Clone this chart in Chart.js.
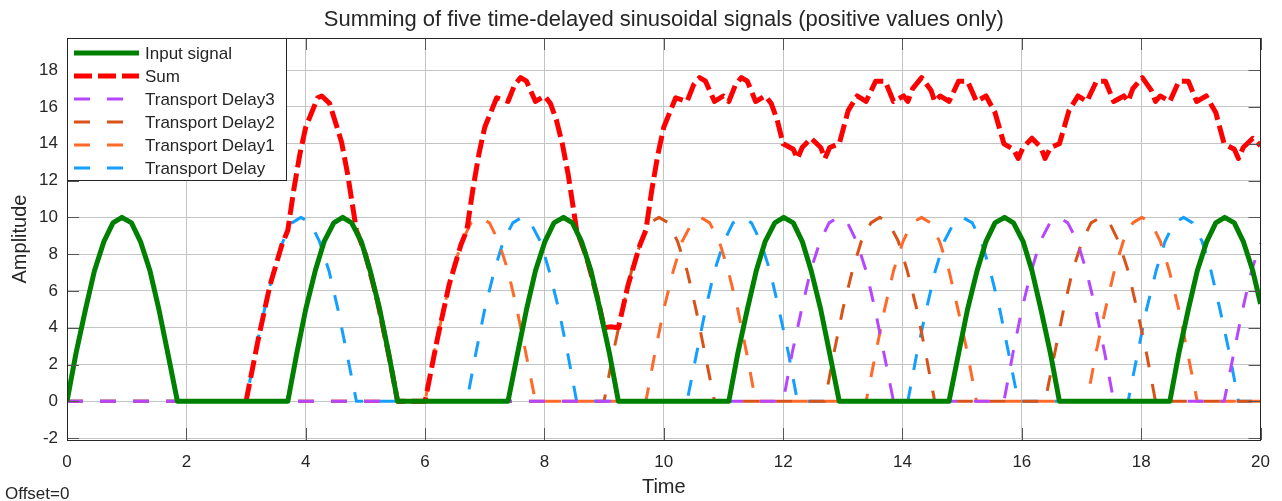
<!DOCTYPE html>
<html>
<head>
<meta charset="utf-8">
<title>Summing of five time-delayed sinusoidal signals</title>
<script src="https://cdn.jsdelivr.net/npm/chart.js@4.4.1/dist/chart.umd.min.js"></script>
<style>
  html, body { margin: 0; padding: 0; background: #fff; }
  #wrap { position: relative; width: 1282px; height: 501px; }
  #offsetNote {
    position: absolute; left: 5px; top: 484px;
    font: 17px "Liberation Sans", Arial, sans-serif; color: #262626;
    line-height: 20px;
  }
</style>
</head>
<body>
<div id="wrap">
  <canvas id="scopeChart" width="1282" height="501"></canvas>
  <div id="offsetNote">Offset=0</div>
</div>
<script>
// ---- data ----
const chartTitle = 'Summing of five time-delayed sinusoidal signals (positive values only)';
const xTicks = [0, 2, 4, 6, 8, 10, 12, 14, 16, 18, 20];
const yTicks = [-2, 0, 2, 4, 6, 8, 10, 12, 14, 16, 18];

const inputTime = [
  0, 0.15, 0.31, 0.46, 0.62, 0.77, 0.92, 1.08, 1.23, 1.39, 1.54, 1.69, 1.85,
  3.70, 3.85, 4.00, 4.16, 4.31, 4.47, 4.62, 4.77, 4.93, 5.08, 5.24, 5.39, 5.54,
  7.39, 7.55, 7.70, 7.85, 8.01, 8.16, 8.32, 8.47, 8.62, 8.78, 8.93, 9.09, 9.24,
  11.09, 11.24, 11.40, 11.55, 11.70, 11.86, 12.01, 12.17, 12.32, 12.47, 12.63, 12.78, 12.94,
  14.78, 14.94, 15.09, 15.25, 15.40, 15.55, 15.71, 15.86, 16.02, 16.17, 16.32, 16.48, 16.63,
  18.48, 18.63, 18.79, 18.94, 19.10, 19.25, 19.40, 19.56, 19.71, 19.87, 20
];
const inputAmp = [
  0, 2.6, 5, 7.1, 8.7, 9.7, 10, 9.7, 8.7, 7.1, 5, 2.6, 0,
  0, 2.6, 5, 7.1, 8.7, 9.7, 10, 9.7, 8.7, 7.1, 5, 2.6, 0,
  0, 2.6, 5, 7.1, 8.7, 9.7, 10, 9.7, 8.7, 7.1, 5, 2.6, 0,
  0, 2.6, 5, 7.1, 8.7, 9.7, 10, 9.7, 8.7, 7.1, 5, 2.6, 0,
  0, 2.6, 5, 7.1, 8.7, 9.7, 10, 9.7, 8.7, 7.1, 5, 2.6, 0,
  0, 2.6, 5, 7.1, 8.7, 9.7, 10, 9.7, 8.7, 7.1, 5.3
];

const sumTime = [
  3, 3.2, 3.4, 3.6, 3.7, 3.8, 3.9, 4.0, 4.2, 4.27, 4.4, 4.6, 4.7, 4.85, 5.0, 5.2, 5.4, 5.54,
  6.0, 6.2, 6.4, 6.6, 6.7, 6.8, 6.9, 7.0, 7.2, 7.39, 7.5, 7.6, 7.7, 7.85, 8.0, 8.1, 8.2, 8.3, 8.4, 8.54, 8.7, 8.9, 9.0, 9.1, 9.24,
  9.4, 9.6, 9.7, 9.8, 9.9, 10.0, 10.2, 10.39, 10.5, 10.6, 10.7, 10.85, 11.0, 11.09, 11.2, 11.3, 11.4, 11.54, 11.7, 11.8, 11.9, 12.0,
  12.17, 12.24, 12.32, 12.47, 12.63, 12.7, 12.78, 12.94, 13.09, 13.24, 13.39, 13.55, 13.71, 13.85, 14.02, 14.09, 14.17, 14.32, 14.48, 14.54, 14.63, 14.78, 14.94, 15.09, 15.24, 15.4, 15.55, 15.7,
  15.86, 15.94, 16.02, 16.17, 16.32, 16.39, 16.48, 16.63, 16.79, 16.94, 17.09, 17.25, 17.4, 17.54, 17.71, 17.78, 17.86, 18.02, 18.17, 18.24, 18.32, 18.48, 18.63, 18.79, 18.93, 19.09, 19.25, 19.39,
  19.56, 19.63, 19.71, 19.87, 20
];
const sumAmp = [
  0, 3.3, 6.3, 8.5, 9.3, 11.5, 13.4, 14.9, 16.5, 16.6, 16.2, 14.1, 12.4, 9.3, 8.0, 5.5, 2.4, 0,
  0, 3.3, 6.3, 8.5, 9.3, 11.5, 13.4, 14.9, 16.5, 16.3, 17.2, 17.6, 17.4, 16.3, 16.6, 16.2, 15.3, 14.0, 12.3, 9.3, 7.9, 5.5, 4.0, 4.05, 4.0,
  6.3, 8.5, 9.3, 11.5, 13.4, 14.9, 16.5, 16.3, 17.2, 17.6, 17.4, 16.3, 16.6, 16.3, 17.2, 17.6, 17.4, 16.3, 16.6, 16.2, 15.3, 14.0,
  13.7, 13.2, 13.8, 14.3, 13.8, 13.2, 13.8, 14.0, 15.8, 16.6, 16.3, 17.4, 17.4, 16.3, 16.6, 16.3, 17.0, 17.6, 16.9, 16.3, 16.6, 16.3, 17.4, 17.4, 16.3, 16.6, 15.7, 14.0,
  13.7, 13.2, 13.8, 14.3, 13.8, 13.2, 13.8, 14.0, 15.8, 16.6, 16.3, 17.4, 17.4, 16.3, 16.6, 16.3, 17.0, 17.6, 16.9, 16.3, 16.6, 16.3, 17.4, 17.4, 16.3, 16.6, 15.7, 14.0,
  13.7, 13.2, 13.8, 14.3, 13.9
];

// Transport Delay (3 s)
const delayTime = [
  0,
  3.00, 3.15, 3.31, 3.46, 3.62, 3.77, 3.92, 4.08, 4.23, 4.39, 4.54, 4.69, 4.85,
  6.70, 6.85, 7.00, 7.16, 7.31, 7.47, 7.62, 7.77, 7.93, 8.08, 8.24, 8.39, 8.54,
  10.39, 10.55, 10.70, 10.85, 11.01, 11.16, 11.32, 11.47, 11.62, 11.78, 11.93, 12.09, 12.24,
  14.09, 14.24, 14.40, 14.55, 14.70, 14.86, 15.01, 15.17, 15.32, 15.47, 15.63, 15.78, 15.94,
  17.78, 17.94, 18.09, 18.25, 18.40, 18.55, 18.71, 18.86, 19.02, 19.17, 19.32, 19.48, 19.63,
  20
];
const delayAmp = [
  0,
  0, 2.6, 5, 7.1, 8.7, 9.7, 10, 9.7, 8.7, 7.1, 5, 2.6, 0,
  0, 2.6, 5, 7.1, 8.7, 9.7, 10, 9.7, 8.7, 7.1, 5, 2.6, 0,
  0, 2.6, 5, 7.1, 8.7, 9.7, 10, 9.7, 8.7, 7.1, 5, 2.6, 0,
  0, 2.6, 5, 7.1, 8.7, 9.7, 10, 9.7, 8.7, 7.1, 5, 2.6, 0,
  0, 2.6, 5, 7.1, 8.7, 9.7, 10, 9.7, 8.7, 7.1, 5, 2.6, 0,
  0
];

// Transport Delay1 (6 s)
const delay1Time = [
  0,
  6.00, 6.15, 6.31, 6.46, 6.62, 6.77, 6.92, 7.08, 7.23, 7.39, 7.54, 7.69, 7.85,
  9.70, 9.85, 10.00, 10.16, 10.31, 10.47, 10.62, 10.77, 10.93, 11.08, 11.24, 11.39, 11.54,
  13.39, 13.55, 13.70, 13.85, 14.01, 14.16, 14.32, 14.47, 14.62, 14.78, 14.93, 15.09, 15.24,
  17.09, 17.24, 17.40, 17.55, 17.70, 17.86, 18.01, 18.17, 18.32, 18.47, 18.63, 18.78, 18.94,
  20
];
const delay1Amp = [
  0,
  0, 2.6, 5, 7.1, 8.7, 9.7, 10, 9.7, 8.7, 7.1, 5, 2.6, 0,
  0, 2.6, 5, 7.1, 8.7, 9.7, 10, 9.7, 8.7, 7.1, 5, 2.6, 0,
  0, 2.6, 5, 7.1, 8.7, 9.7, 10, 9.7, 8.7, 7.1, 5, 2.6, 0,
  0, 2.6, 5, 7.1, 8.7, 9.7, 10, 9.7, 8.7, 7.1, 5, 2.6, 0,
  0
];

// Transport Delay2 (9 s)
const delay2Time = [
  0,
  9.00, 9.15, 9.31, 9.46, 9.62, 9.77, 9.92, 10.08, 10.23, 10.39, 10.54, 10.69, 10.85,
  12.70, 12.85, 13.00, 13.16, 13.31, 13.47, 13.62, 13.77, 13.93, 14.08, 14.24, 14.39, 14.54,
  16.39, 16.55, 16.70, 16.85, 17.01, 17.16, 17.32, 17.47, 17.62, 17.78, 17.93, 18.09, 18.24,
  20
];
const delay2Amp = [
  0,
  0, 2.6, 5, 7.1, 8.7, 9.7, 10, 9.7, 8.7, 7.1, 5, 2.6, 0,
  0, 2.6, 5, 7.1, 8.7, 9.7, 10, 9.7, 8.7, 7.1, 5, 2.6, 0,
  0, 2.6, 5, 7.1, 8.7, 9.7, 10, 9.7, 8.7, 7.1, 5, 2.6, 0,
  0
];

// Transport Delay3 (12 s)
const delay3Time = [
  0,
  12.00, 12.15, 12.31, 12.46, 12.62, 12.77, 12.92, 13.08, 13.23, 13.39, 13.54, 13.69, 13.85,
  15.70, 15.85, 16.00, 16.16, 16.31, 16.47, 16.62, 16.77, 16.93, 17.08, 17.24, 17.39, 17.54,
  19.39, 19.55, 19.70, 19.85, 20
];
const delay3Amp = [
  0,
  0, 2.6, 5, 7.1, 8.7, 9.7, 10, 9.7, 8.7, 7.1, 5, 2.6, 0,
  0, 2.6, 5, 7.1, 8.7, 9.7, 10, 9.7, 8.7, 7.1, 5, 2.6, 0,
  0, 2.6, 5, 7.1, 8.6
];

const FONT = '"Liberation Sans", Arial, Helvetica, sans-serif';
const TEXT_COLOR = '#262626';

const toPoints = (xs, ys) => xs.map((x, i) => ({ x, y: ys[i] }));

function lineSet(label, xs, ys, color, width, dash) {
  return {
    label,
    data: toPoints(xs, ys),
    borderColor: color,
    backgroundColor: color,
    borderWidth: width,
    borderDash: dash,
    borderCapStyle: 'butt',
    borderJoinStyle: 'round',
    pointRadius: 0,
    tension: 0,
    fill: false,
    clip: 0
  };
}

// first dataset is painted last, so the input sits on top like in the scope
const datasets = [
  lineSet('Input signal', inputTime, inputAmp, '#008000', 5, []),
  lineSet('Sum', sumTime, sumAmp, '#ff0000', 5, [18, 6]),
  lineSet('Transport Delay3', delay3Time, delay3Amp, '#b746ff', 3, [16, 17]),
  lineSet('Transport Delay2', delay2Time, delay2Amp, '#d95319', 3, [16, 17]),
  lineSet('Transport Delay1', delay1Time, delay1Amp, '#ff6929', 3, [16, 17]),
  lineSet('Transport Delay', delayTime, delayAmp, '#139fff', 3, [16, 17])
];

// title centred over the axes (not the whole canvas), like the scope does
const axesTitle = {
  id: 'axesTitle',
  afterDraw(chart) {
    const { ctx, chartArea: a } = chart;
    ctx.save();
    ctx.font = '22px ' + FONT;
    ctx.fillStyle = TEXT_COLOR;
    ctx.textAlign = 'center';
    ctx.textBaseline = 'middle';
    ctx.fillText(chartTitle, (a.left + a.right) / 2, 20);
    ctx.restore();
  }
};

// box around the axes plus the short inward tick marks
const scopeFrame = {
  id: 'scopeFrame',
  afterDatasetsDraw(chart) {
    const { ctx, chartArea: a, scales } = chart;
    const tick = 12;
    ctx.save();
    ctx.lineWidth = 1;
    ctx.setLineDash([]);
    ctx.strokeStyle = '#555555';
    ctx.beginPath();
    xTicks.forEach(v => {
      const px = Math.round(scales.x.getPixelForValue(v)) + 0.5;
      ctx.moveTo(px, a.bottom); ctx.lineTo(px, a.bottom - tick);
      ctx.moveTo(px, a.top); ctx.lineTo(px, a.top + tick);
    });
    yTicks.forEach(v => {
      const py = Math.round(scales.y.getPixelForValue(v)) + 0.5;
      ctx.moveTo(a.left, py); ctx.lineTo(a.left + tick, py);
      ctx.moveTo(a.right, py); ctx.lineTo(a.right - tick, py);
    });
    ctx.stroke();
    ctx.strokeStyle = TEXT_COLOR;
    ctx.strokeRect(Math.round(a.left) + 0.5, Math.round(a.top) + 0.5,
      Math.round(a.right - a.left) - 1, Math.round(a.bottom - a.top));
    ctx.restore();
  }
};

// legend box in the upper left corner of the axes
const scopeLegend = {
  id: 'scopeLegend',
  afterDraw(chart) {
    const { ctx, chartArea: a } = chart;
    const boxW = 219, boxH = 142;
    const rowStart = 15, rowStep = 23;
    const x0 = Math.round(a.left) + 0.5, y0 = Math.round(a.top) + 0.5;
    ctx.save();
    ctx.fillStyle = '#ffffff';
    ctx.fillRect(x0, y0, boxW, boxH);
    ctx.strokeStyle = TEXT_COLOR;
    ctx.lineWidth = 1;
    ctx.setLineDash([]);
    ctx.strokeRect(x0, y0, boxW, boxH);
    ctx.font = '17px ' + FONT;
    ctx.textBaseline = 'middle';
    chart.data.datasets.forEach((ds, i) => {
      const y = a.top + rowStart + rowStep * i;
      ctx.beginPath();
      ctx.strokeStyle = ds.borderColor;
      ctx.lineWidth = ds.borderWidth;
      ctx.lineCap = 'butt';
      ctx.setLineDash(ds.borderDash);
      ctx.moveTo(a.left + 7, y);
      ctx.lineTo(a.left + 72, y);
      ctx.stroke();
      ctx.setLineDash([]);
      ctx.fillStyle = TEXT_COLOR;
      ctx.fillText(ds.label, a.left + 78, y + 1);
    });
    ctx.restore();
  }
};

const chart = new Chart(document.getElementById('scopeChart'), {
  type: 'line',
  data: { datasets },
  options: {
    responsive: false,
    animation: false,
    layout: { padding: { left: 0, right: 20, top: 38, bottom: 0 } },
    plugins: {
      legend: { display: false },
      tooltip: { enabled: false },
      title: { display: false }
    },
    scales: {
      x: {
        type: 'linear',
        min: 0,
        max: 20,
        afterBuildTicks: s => { s.ticks = xTicks.map(v => ({ value: v })); },
        afterFit: s => { s.height = 61; },
        grid: { color: '#c4c4c4', lineWidth: 1, drawTicks: false },
        border: { display: false },
        ticks: { color: TEXT_COLOR, font: { family: FONT, size: 17 }, padding: 12, maxRotation: 0 },
        title: {
          display: true, text: 'Time', color: TEXT_COLOR,
          font: { family: FONT, size: 20 }, padding: { top: 0, bottom: 2 }
        }
      },
      y: {
        type: 'linear',
        min: -2.1,
        max: 19.75,
        afterBuildTicks: s => { s.ticks = yTicks.map(v => ({ value: v })); },
        afterFit: s => { s.width = 67; },
        grid: { color: '#c4c4c4', lineWidth: 1, drawTicks: false },
        border: { display: false },
        ticks: { color: TEXT_COLOR, font: { family: FONT, size: 17 }, padding: 9 },
        title: {
          display: true, text: 'Amplitude', color: TEXT_COLOR,
          font: { family: FONT, size: 20 }, padding: { top: 8, bottom: 0 }
        }
      }
    }
  },
  plugins: [scopeFrame, scopeLegend, axesTitle]
});
</script>
</body>
</html>
